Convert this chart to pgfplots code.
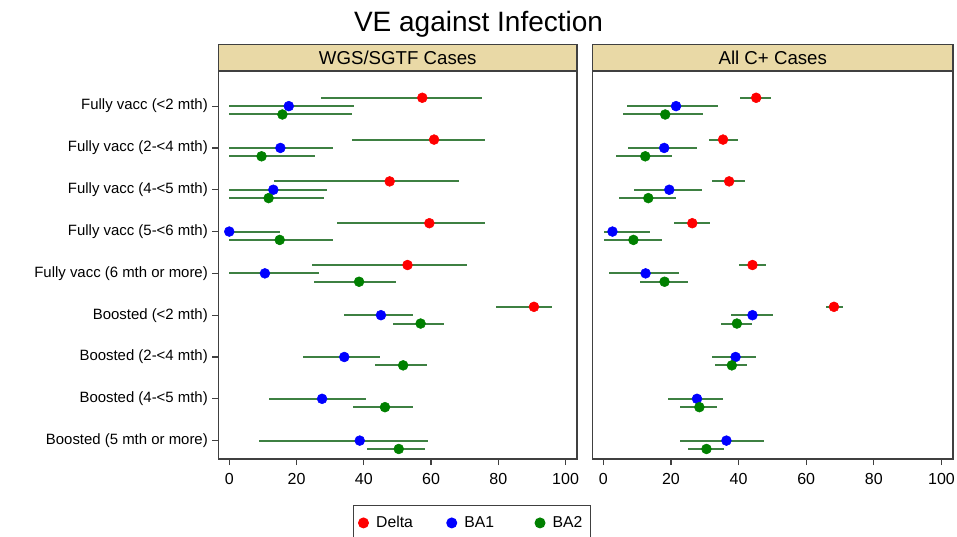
\documentclass[border=0pt]{standalone}
\usepackage{fontspec}
\setmainfont{Liberation Sans}
\usepackage{pgfplots}
\usepackage{pgfplotstable}
\pgfplotsset{compat=1.18}

\definecolor{ciline}{RGB}{62,128,66}
\definecolor{strip}{RGB}{233,217,166}
\definecolor{frame}{RGB}{64,64,64}
\definecolor{cDelta}{RGB}{255,0,0}
\definecolor{cBAone}{RGB}{0,0,255}
\definecolor{cBAtwo}{RGB}{0,128,0}

% row: 5*group + (0 Delta, 1 BA1, 2 BA2); v = VE, lo/hi = 95% CI
% --- WGS/SGTF cases
\pgfplotstableread{
row v lo hi
0  57.4 27.4 75.1
5  60.9 36.4 76.0
10 47.7 13.4 68.4
15 59.5 32.1 75.9
20 53.0 24.6 70.6
25 90.6 79.2 95.9
}\wgsDelta
\pgfplotstableread{
row v lo hi
1  17.7 0.0 37.1
6  15.2 0.0 30.9
11 13.1 0.0 29.0
16 0.0  0.0 15.1
21 10.6 0.0 26.6
26 45.1 34.2 54.5
31 34.2 21.8 44.8
36 27.6 11.9 40.6
41 38.8 8.7  59.0
}\wgsBAone
\pgfplotstableread{
row v lo hi
2  15.8 0.0  36.4
7  9.6  0.0  25.6
12 11.7 0.0  28.2
17 15.0 0.0  30.9
22 38.6 25.2 49.5
27 56.9 48.7 63.9
32 51.7 43.3 58.9
37 46.3 36.7 54.7
42 50.4 40.9 58.3
}\wgsBAtwo
% --- all C+ cases
\pgfplotstableread{
row v lo hi
0  45.2 40.3 49.6
5  35.4 31.1 39.7
10 37.2 32.1 42.0
15 26.3 20.8 31.4
20 44.1 40.0 48.0
25 68.2 65.7 70.8
}\allDelta
\pgfplotstableread{
row v lo hi
1  21.5 6.9  33.9
6  18.0 7.3  27.7
11 19.5 9.0  29.2
16 2.7  0.2  13.7
21 12.5 1.7  22.3
26 44.1 37.8 50.1
31 39.1 32.2 45.2
36 27.7 19.1 35.5
41 36.4 22.8 47.6
}\allBAone
\pgfplotstableread{
row v lo hi
2  18.3 5.7  29.4
7  12.4 3.7  20.3
12 13.3 4.5  21.6
17 8.9  0.2  17.3
22 18.1 10.8 24.9
27 39.5 34.7 44.1
32 38.0 33.1 42.4
37 28.4 22.7 33.6
42 30.5 24.9 35.7
}\allBAtwo

\pgfplotsset{
  vepanel/.style={
    scale only axis, height=291pt,
    xmin=-3.2, xmax=103.4, ymin=-3.2, ymax=43.2, y dir=reverse,
    axis line style={frame, line width=0.9pt},
    xtick={0,20,...,100}, tick align=outside, xtick pos=bottom, ytick pos=left,
    major tick length=4.5pt,
    tick style={frame, line width=0.9pt},
    x tick label style={font=\fontsize{12}{14}\selectfont, yshift=-3pt},
    y tick label style={font=\fontsize{11.2}{13}\selectfont},
    /pgf/number format/assume math mode=true,
    every axis title/.style={at={(0.5,1)}, anchor=south, fill=strip, draw=frame,
      line width=0.9pt, minimum height=19.5pt, inner sep=0pt,
      font=\fontsize{14}{16}\selectfont},
  },
  ve/.style={only marks, mark=*, mark size=3.7pt, color=#1,
    mark options={draw=#1, fill=#1},
    error bars/.cd, x dir=both, x explicit, error mark=none,
    error bar style={ciline, line width=1.5pt}},
  legend image code/.code={\draw[#1, mark repeat=2, mark phase=2]
    plot coordinates {(0pt,0pt) (5pt,0pt) (10pt,0pt)};},
  /pgfplots/table/citab/.style={x=v, y=row,
    x error plus expr=\thisrow{hi}-\thisrow{v},
    x error minus expr=\thisrow{v}-\thisrow{lo}},
}

\begin{document}
\begin{tikzpicture}
\node[anchor=base, font=\fontsize{21}{25}\selectfont] at (358.9pt,-23.8pt) {VE against Infection};

\begin{axis}[vepanel, at={(163.875pt,-344.25pt)}, anchor=south west,
  width=268.875pt, title style={minimum width=268.875pt},
  title={WGS/SGTF Cases},
  ytick={1,6,...,41},
  yticklabels={Fully vacc (<2 mth), Fully vacc (2-<4 mth), Fully vacc (4-<5 mth),
    Fully vacc (5-<6 mth), Fully vacc (6 mth or more), Boosted (<2 mth),
    Boosted (2-<4 mth), Boosted (4-<5 mth), Boosted (5 mth or more)},
  legend columns=3,
  legend style={at={(0.3743,-0.1186)}, anchor=north west, draw=frame, line width=0.8pt,
    font=\fontsize{11.8}{13}\selectfont, inner xsep=4pt, inner ysep=6pt,
    /tikz/every odd column/.append style={column sep=3.8pt},
    /tikz/every even column/.append style={column sep=4pt}},
]
\addplot[ve=cDelta] table[citab] {\wgsDelta};
\addlegendentry{\makebox[47pt][l]{Delta}}
\addplot[ve=cBAone] table[citab] {\wgsBAone};
\addlegendentry{\makebox[47pt][l]{BA1}}
\addplot[ve=cBAtwo] table[citab] {\wgsBAtwo};
\addlegendentry{BA2}
\end{axis}

\begin{axis}[vepanel, at={(444.375pt,-344.25pt)}, anchor=south west,
  width=270.375pt, title style={minimum width=270.375pt},
  title={All C+ Cases},
  ytick=\empty,
]
\addplot[ve=cDelta] table[citab] {\allDelta};
\addplot[ve=cBAone] table[citab] {\allBAone};
\addplot[ve=cBAtwo] table[citab] {\allBAtwo};
\end{axis}

\pgfresetboundingbox
\useasboundingbox (0pt,0pt) rectangle (717.75pt,-402pt);
\end{tikzpicture}
\end{document}
